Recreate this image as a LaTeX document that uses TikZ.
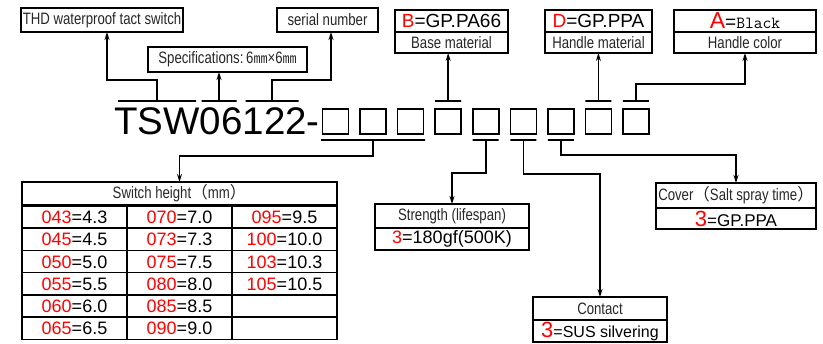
\documentclass[tikz,border=0pt]{standalone}
\usepackage{fontspec}
\setmainfont{Liberation Sans}
\newfontfamily\narrowfont[FakeStretch=0.8]{Liberation Sans}
\newfontfamily\cjk{Noto Sans CJK SC}
\usepackage{xcolor}
\definecolor{red00}{HTML}{FF0000}
\definecolor{gry00}{HTML}{262626}
\usepackage{tikz}
\usetikzlibrary{matrix}
\usetikzlibrary{positioning}
\usetikzlibrary{arrows.meta}
\newcommand{\R}[1]{\textcolor{red00}{#1}}
\newcommand{\fsz}[1]{\fontsize{#1}{#1}\selectfont}
\tikzstyle{namebox} = [rectangle, draw, line width=1.6pt, inner sep=0pt, outer sep=0pt, text centered, text=gry00, font=\narrowfont\fsz{16.5}]
\tikzstyle{valbox} = [rectangle, draw, line width=1.6pt, inner sep=0pt, outer sep=0pt, text centered, font=\fsz{19}]
\tikzstyle{sqbox} = [rectangle, draw, line width=1.6pt, minimum width=26pt, minimum height=25pt, inner sep=0pt]
\tikzstyle{tick} = [rectangle, draw, line width=1.6pt, minimum height=0pt, inner sep=0pt, outer sep=0pt]
\tikzstyle{cell} = [rectangle, draw, line width=1.6pt, anchor=center, minimum width=105pt, minimum height=22.3pt, text height=13pt, text depth=0pt, inner sep=0pt, outer sep=0pt, font=\fsz{18}]
\tikzstyle{link} = [line width=1.6pt, -{Stealth[length=8pt,width=5pt]}]

\begin{document}
\begin{tikzpicture}[x=1pt,y=-1pt]
        \useasboundingbox (0,0) rectangle (823,344);
        % part number and the nine boxes
        \node (code)[anchor=base east, inner sep=0pt, font=\fsz{38.5}] at (320,135) {TSW06122-};
        \foreach \i in {1,...,9}
            \node (s\i)[sqbox] at ({335.5+37.56*(\i-1)},121.5) {};
        \node (t1)[tick, minimum width=78pt] at (157,101) {};
        \node (t2)[tick, minimum width=35pt] at (219,101) {};
        \node (t3)[tick, minimum width=53pt] at (272,101) {};
        \node (u4)[tick, minimum width=26pt, above=7pt of s4] {};
        \node (u8)[tick, minimum width=26pt, above=7pt of s8] {};
        \node (u9)[tick, minimum width=26pt, above=7pt of s9] {};
        \node (d1)[tick, minimum width=104pt, below=5pt of s2] {};
        \node (d5)[tick, minimum width=26pt, below=5pt of s5] {};
        \node (d6)[tick, minimum width=26pt, below=5pt of s6] {};
        \node (d7)[tick, minimum width=26pt, below=5pt of s7] {};
        % top labels
        \node (thd)[namebox, minimum width=162pt, minimum height=24pt] at (102,20) {THD waterproof tact switch};
        \node (spec)[namebox, minimum width=159pt, minimum height=25pt] at (227.5,59.5) {Specifications:\,6{\cjk\fsz{14}㎜}×6{\cjk\fsz{14}㎜}};
        \node (serial)[namebox, minimum width=101pt, minimum height=24pt] at (327.5,20) {serial number};
        \node (bval)[valbox, minimum width=113pt, minimum height=22pt] at (451.5,21) {\R{B}=GP.PA66};
        \node (bname)[namebox, minimum width=113pt, minimum height=21pt, below=0pt of bval] {Base material};
        \node (hmval)[valbox, minimum width=107pt, minimum height=22pt] at (598.5,21) {\R{D}=GP.PPA};
        \node (hmname)[namebox, minimum width=107pt, minimum height=21pt, below=0pt of hmval] {Handle material};
        \node (hcval)[valbox, minimum width=142pt, minimum height=22pt] at (745,21) {{\fsz{23}\R{A}}={\ttfamily\fsz{17}Black}};
        \node (hcname)[namebox, minimum width=142pt, minimum height=21pt, below=0pt of hcval] {Handle color};
        \draw [link] (t1.north) -- ++(0,-21) -| ([xshift=5pt]thd.south);
        \draw [link] (t2.north) -- (t2.north |- spec.south);
        \draw [link] (t3.north) -- ++(0,-21) -| ([xshift=3.5pt]serial.south);
        \draw [link] (u4.north) -- (u4.north |- bname.south);
        \draw [link] (u8.north) -- (u8.north |- hmname.south);
        \draw [link] (u9.north) -- ++(0,-17) -| (hcname.south);
        % switch height table
        \node (sh)[namebox, minimum width=315pt, minimum height=23pt] at (179.5,193.5) {Switch height{\cjk（}mm{\cjk）}};
        \matrix (tab)[matrix of nodes, nodes={cell}, nodes in empty cells, below=0pt of sh, inner sep=0pt, outer sep=0pt, row sep=-1.6pt, column sep=-1.6pt] {
            \R{043}=4.3 & \R{070}=7.0 & \R{095}=9.5 \\
            \R{045}=4.5 & \R{073}=7.3 & \R{100}=10.0 \\
            \R{050}=5.0 & \R{075}=7.5 & \R{103}=10.3 \\
            \R{055}=5.5 & \R{080}=8.0 & \R{105}=10.5 \\
            \R{060}=6.0 & \R{085}=8.5 & \\
            \R{065}=6.5 & \R{090}=9.0 & \\
        };
        % lower labels
        \node (stop)[namebox, minimum width=154pt, minimum height=24pt] at (452,216) {Strength (lifespan)};
        \node (sbot)[valbox, minimum width=154pt, minimum height=22pt, below=0pt of stop, font=\fsz{18}] {\R{3}=180gf(500K)};
        \node (ctop)[namebox, minimum width=134pt, minimum height=23pt] at (600,308.5) {Contact};
        \node (cbot)[valbox, minimum width=134pt, minimum height=22pt, below=0pt of ctop, font=\fsz{16}] {{\fsz{22}\R{3}}=SUS silvering};
        \node (cvtop)[namebox, minimum width=160pt, minimum height=25pt] at (736,195.5) {Cover{\cjk（}Salt spray time{\cjk）}};
        \node (cvbot)[valbox, minimum width=160pt, minimum height=21pt, below=0pt of cvtop, font=\fsz{17}] {{\fsz{22}\R{3}}=GP.PPA};
        \draw [link] (d1.south) -- ++(0,16) -| (sh.north);
        \draw [link] (d5.south) -- ++(0,33) -| (stop.north);
        \draw [link] (d6.south) -- ++(0,34) -| (ctop.north);
        \draw [link] (d7.south) -- ++(0,15) -| (cvtop.north);
    \end{tikzpicture}
\end{document}
